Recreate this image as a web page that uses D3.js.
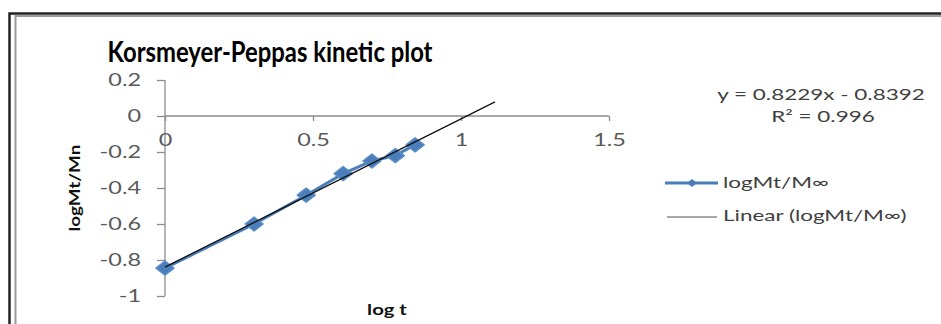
<!DOCTYPE html>
<html><head><meta charset="utf-8">
<script src="https://cdn.jsdelivr.net/npm/d3@7"></script>
<style>html,body{margin:0;padding:0;background:#fff;}svg{display:block;}</style>
</head><body>
<script>
const logT = [0, 0.301, 0.477, 0.602, 0.699, 0.778, 0.845];
const logMt = [-0.845, -0.60, -0.44, -0.32, -0.25, -0.22, -0.16];
const xTicks = [0, 0.5, 1, 1.5];
const yTicks = [0.2, 0, -0.2, -0.4, -0.6, -0.8, -1];
const trendSlope = 0.8229, trendIntercept = -0.8392;
const trendRange = [0, 1.115];
const title = "Korsmeyer-Peppas kinetic plot";
const eqText = "y = 0.8229x - 0.8392";
const r2Text = "R² = 0.996";
const xTitle = "log t";
const yTitle = "logMt/Mn";
const legendLabels = ["logMt/M∞", "Linear (logMt/M∞)"];

const W = 941, H = 324;
const SX = 1.42; // horizontal stretch of the reference's text
const font = "Lato, 'Open Sans', sans-serif";
const svg = d3.select("body").append("svg").attr("width", W).attr("height", H);

function addText(parent, x, y, str, o = {}) {
  const sx = o.sx ?? SX;
  const rot = o.rotate ? ` rotate(${o.rotate})` : "";
  return parent.append("text")
    .attr("transform", `translate(${x},${y})${rot} scale(${sx},1)`)
    .attr("text-anchor", o.anchor || "start")
    .attr("font-family", font)
    .attr("font-size", o.size || 15)
    .attr("font-weight", o.weight || "normal")
    .attr("fill", o.fill || "#404040")
    .text(str);
}

// frame
svg.append("path").attr("d", `M9.5,${H} V13.5 H${W}`).attr("fill","none").attr("stroke","#222").attr("stroke-width",2.5);
svg.append("path").attr("d", `M15.5,${H} V16 H${W}`).attr("fill","none").attr("stroke","#9a9a9a").attr("stroke-width",2);

const x = d3.scaleLinear().domain([0, 1.5]).range([165, 609]);
const y = d3.scaleLinear().domain([-1, 0.2]).range([296, 80]);

// title
svg.append("text").attr("x", 270).attr("y", 62).attr("text-anchor","middle")
  .attr("font-family", font).attr("font-weight","bold").attr("font-size", 28.5).attr("fill","#000")
  .attr("textLength", 325).attr("lengthAdjust","spacingAndGlyphs").text(title);

// y axis
const yAx = svg.append("g").attr("transform", `translate(${x(0)},0)`)
  .call(d3.axisLeft(y).tickValues(yTicks).tickSize(8).tickFormat(d => String(d)));
// x axis at y=0
const xAx = svg.append("g").attr("transform", `translate(0,${y(0)})`)
  .call(d3.axisBottom(x).tickValues(xTicks).tickSize(5).tickFormat(d => String(d)));
[yAx, xAx].forEach(g => {
  g.select(".domain").attr("stroke", "#8c8c8c").attr("stroke-width", 1.3);
  g.selectAll(".tick line").attr("stroke", "#8c8c8c").attr("stroke-width", 1.3);
  g.selectAll(".tick text").attr("fill", "#595959").attr("font-family", font).attr("font-size", 16.5);
});
yAx.select(".domain").attr("d", `M0,${y(0.2)}V${y(-1)}`);
xAx.select(".domain").attr("d", `M${x(0)},0H${x(1.5)}`);
yAx.selectAll(".tick text").attr("x", -24 / SX).attr("dy", "0.35em").attr("transform", `scale(${SX},1)`);
xAx.selectAll(".tick text").attr("y", 30).attr("dy", null).attr("transform", `scale(${SX},1)`);

// axis titles
addText(svg, 80, 188, yTitle, {anchor: "middle", weight: "bold", size: 14.5, fill: "#111", rotate: -90, sx: 1.3});
addText(svg, 387, 315, xTitle, {anchor: "middle", weight: "bold", size: 14.5, fill: "#111", sx: 1.4});

// diamond marker of given width/height
const diamondWH = (w, h) => ({ draw(ctx) {
  ctx.moveTo(0, -h/2); ctx.lineTo(w/2, 0); ctx.lineTo(0, h/2); ctx.lineTo(-w/2, 0); ctx.closePath();
}});

// series line
const pts = logT.map((d,i)=>[d, logMt[i]]);
const line = d3.line().x(d=>x(d[0])).y(d=>y(d[1]));
svg.append("path").datum(pts).attr("d", line).attr("fill","none").attr("stroke","#4a7ebb").attr("stroke-width",3);
svg.selectAll(".mk").data(pts).join("path").attr("class","mk")
  .attr("transform", d=>`translate(${x(d[0])},${y(d[1])})`)
  .attr("d", d3.symbol().type(diamondWH(18, 14))()).attr("fill","#4a7ebb")
  .attr("stroke","#5b8cc6").attr("stroke-width",1.5).attr("stroke-linejoin","round");

// trendline
const tr = trendRange.map(v=>[v, trendSlope*v + trendIntercept]);
svg.append("path").datum(tr).attr("d", line).attr("fill","none").attr("stroke","#111").attr("stroke-width",1.3);

// equation
addText(svg, 821, 100, eqText, {anchor: "middle", size: 15.5, sx: 1.45});
addText(svg, 823, 122, r2Text, {anchor: "middle", size: 15.5, sx: 1.45});

// legend
const lg = svg.append("g");
lg.append("line").attr("x1",665).attr("x2",718).attr("y1",183).attr("y2",183).attr("stroke","#4a7ebb").attr("stroke-width",3);
lg.append("path").attr("transform","translate(692,183)").attr("d", d3.symbol().type(diamondWH(10, 8))()).attr("fill","#4a7ebb");
addText(lg, 723, 188, legendLabels[0], {size: 15.5, sx: 1.45});
lg.append("line").attr("x1",667).attr("x2",717).attr("y1",217).attr("y2",217).attr("stroke","#8a8a8a").attr("stroke-width",1.5);
addText(lg, 723, 221, legendLabels[1], {size: 15.5, sx: 1.45});
</script>
</body></html>
